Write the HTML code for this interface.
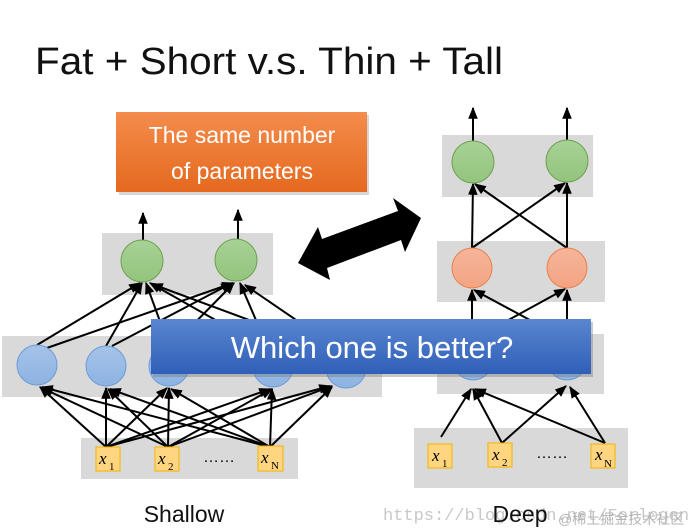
<!DOCTYPE html>
<html><head><meta charset="utf-8"><style>
html,body{margin:0;padding:0;background:#fff;}
svg{display:block;}
</style></head><body>
<svg width="692" height="532" viewBox="0 0 692 532" xmlns="http://www.w3.org/2000/svg">
<defs>
<marker id="ah" viewBox="0 0 10 10" refX="9" refY="5" markerWidth="6" markerHeight="6" orient="auto"><path d="M0,1 L10,5 L0,9 Z" fill="#000"/></marker>
<linearGradient id="gG" x1="0" y1="0" x2="0" y2="1"><stop offset="0" stop-color="#a7d296"/><stop offset="1" stop-color="#93c47d"/></linearGradient>
<linearGradient id="gB" x1="0" y1="0" x2="0" y2="1"><stop offset="0" stop-color="#a5c3e8"/><stop offset="1" stop-color="#8db3e2"/></linearGradient>
<linearGradient id="gO" x1="0" y1="0" x2="0" y2="1"><stop offset="0" stop-color="#f6b59a"/><stop offset="1" stop-color="#f3a482"/></linearGradient>
<linearGradient id="gOr" x1="0" y1="0" x2="0" y2="1"><stop offset="0" stop-color="#f48c4c"/><stop offset="1" stop-color="#e5691f"/></linearGradient>
<linearGradient id="gBl" x1="0" y1="0" x2="0" y2="1"><stop offset="0" stop-color="#5a86d0"/><stop offset="1" stop-color="#2f5fb8"/></linearGradient>
</defs>
<text x="35" y="74" font-family="Liberation Sans, sans-serif" font-size="38" fill="#111" textLength="468" lengthAdjust="spacingAndGlyphs">Fat + Short v.s. Thin + Tall</text>

<!-- Shallow -->
<rect x="102" y="233" width="171" height="62" fill="#d9d9d9"/>
<rect x="2" y="336" width="380" height="61" fill="#d9d9d9"/>
<rect x="81" y="438" width="217" height="41" fill="#d9d9d9"/>
<g stroke="#000" stroke-width="2" marker-end="url(#ah)">
<line x1="143" y1="245" x2="143" y2="213"/>
<line x1="238" y1="243" x2="238" y2="210"/>
<line x1="37" y1="345" x2="140" y2="283"/><line x1="44" y1="349" x2="233" y2="283"/>
<line x1="106" y1="346" x2="142" y2="283"/><line x1="112" y1="346" x2="232" y2="283"/>
<line x1="169" y1="346" x2="146" y2="283"/><line x1="172" y1="346" x2="234" y2="283"/>
<line x1="265" y1="348" x2="150" y2="283"/><line x1="268" y1="348" x2="240" y2="283"/>
<line x1="330" y1="350" x2="152" y2="284"/><line x1="340" y1="350" x2="245" y2="285"/>
<line x1="106" y1="447" x2="40" y2="387"/><line x1="106" y1="447" x2="106" y2="388"/><line x1="106" y1="447" x2="167" y2="388"/><line x1="106" y1="447" x2="270" y2="389"/><line x1="106" y1="447" x2="330" y2="386"/>
<line x1="168" y1="447" x2="42" y2="388"/><line x1="168" y1="447" x2="108" y2="389"/><line x1="168" y1="447" x2="169" y2="388"/><line x1="168" y1="447" x2="272" y2="389"/><line x1="168" y1="447" x2="332" y2="386"/>
<line x1="270" y1="447" x2="42" y2="387"/><line x1="270" y1="447" x2="110" y2="389"/><line x1="270" y1="447" x2="171" y2="389"/><line x1="270" y1="447" x2="272" y2="389"/><line x1="270" y1="447" x2="332" y2="387"/>
</g>
<g stroke="#6ea04f" stroke-width="1" fill="url(#gG)"><circle cx="142" cy="261" r="21"/><circle cx="236" cy="260" r="21"/></g>
<g stroke="#6d9bd6" stroke-width="1" fill="url(#gB)"><circle cx="37" cy="365" r="20"/><circle cx="106" cy="366" r="20"/><circle cx="169" cy="366" r="20"/><circle cx="273" cy="367" r="20"/><circle cx="346" cy="368" r="20"/></g>
<g fill="#ffd580" stroke="#f4b400" stroke-width="1"><rect x="96" y="447" width="24" height="24"/><rect x="155" y="447" width="24" height="24"/><rect x="258" y="446" width="25" height="25"/></g>
<g font-family="Liberation Serif, serif" font-style="italic" font-size="17" fill="#000">
<text x="99" y="464">x</text><text x="158" y="464">x</text><text x="261" y="463">x</text></g>
<g font-family="Liberation Serif, serif" font-size="11" fill="#000"><text x="109" y="470">1</text><text x="168" y="470">2</text><text x="271" y="469">N</text></g>
<text x="203" y="462" font-family="Liberation Sans, sans-serif" font-size="16" fill="#000">……</text>
<text x="184" y="522" text-anchor="middle" font-family="Liberation Sans, sans-serif" font-size="23" fill="#111">Shallow</text>

<!-- Deep -->
<rect x="442" y="135" width="151" height="62" fill="#d9d9d9"/>
<rect x="437" y="241" width="168" height="61" fill="#d9d9d9"/>
<rect x="437" y="334" width="167" height="60" fill="#d9d9d9"/>
<rect x="414" y="428" width="214" height="60" fill="#d9d9d9"/>
<g stroke="#000" stroke-width="2" marker-end="url(#ah)">
<line x1="473" y1="143" x2="473" y2="108"/><line x1="567" y1="143" x2="567" y2="108"/>
<line x1="472" y1="248" x2="473" y2="184"/><line x1="472" y1="248" x2="565" y2="183"/>
<line x1="567" y1="248" x2="475" y2="184"/><line x1="567" y1="248" x2="567" y2="183"/>
<line x1="472" y1="340" x2="472" y2="290"/><line x1="472" y1="340" x2="565" y2="289"/>
<line x1="567" y1="340" x2="474" y2="290"/><line x1="567" y1="340" x2="567" y2="290"/>
<line x1="441" y1="437" x2="471" y2="389"/><line x1="502" y1="443" x2="473" y2="389"/><line x1="502" y1="443" x2="566" y2="386"/>
<line x1="605" y1="443" x2="475" y2="389"/><line x1="605" y1="443" x2="570" y2="387"/>
</g>
<g stroke="#6ea04f" stroke-width="1" fill="url(#gG)"><circle cx="473" cy="162" r="21"/><circle cx="567" cy="161" r="21"/></g>
<g stroke="#e8824f" stroke-width="1" fill="url(#gO)"><circle cx="472" cy="268" r="20"/><circle cx="567" cy="268" r="20"/></g>
<g stroke="#6d9bd6" stroke-width="1" fill="url(#gB)"><circle cx="473" cy="360" r="20"/><circle cx="567" cy="360" r="20"/></g>
<g fill="#ffd580" stroke="#f4b400" stroke-width="1"><rect x="428" y="444" width="24" height="24"/><rect x="488" y="443" width="24" height="24"/><rect x="591" y="444" width="24" height="24"/></g>
<g font-family="Liberation Serif, serif" font-style="italic" font-size="17" fill="#000">
<text x="432" y="461">x</text><text x="492" y="460">x</text><text x="595" y="460">x</text></g>
<g font-family="Liberation Serif, serif" font-size="11" fill="#000"><text x="442" y="467">1</text><text x="502" y="466">2</text><text x="604" y="467">N</text></g>
<text x="536" y="458" font-family="Liberation Sans, sans-serif" font-size="16" fill="#000">……</text>
<text x="383" y="520" font-family="Liberation Mono, monospace" font-size="17" fill="#c8c8c8">https://blog.csdn.net/Forlogen</text>
<text x="520" y="522" text-anchor="middle" font-family="Liberation Sans, sans-serif" font-size="23" fill="#111">Deep</text>
<text x="558" y="524" font-family="Liberation Sans, 'Noto Sans CJK SC', sans-serif" font-size="14" fill="#b5b5b5">@稀土掘金技术社区</text>

<!-- double arrow -->
<polygon points="298,263 318,227 322,239 398,211 393,198 421,218 405,252 401,240 327,268 330,280" fill="#000"/>

<!-- orange box -->
<rect x="119" y="115" width="250" height="80" fill="#999" opacity="0.4"/>
<rect x="116" y="112" width="251" height="80" fill="url(#gOr)"/>
<text x="242" y="143" text-anchor="middle" font-family="Liberation Sans, sans-serif" font-size="23" fill="#fff">The same number</text>
<text x="242" y="179" text-anchor="middle" font-family="Liberation Sans, sans-serif" font-size="23" fill="#fff">of parameters</text>

<!-- blue banner -->
<rect x="153" y="322" width="440" height="55" fill="#777" opacity="0.4"/>
<rect x="151" y="319" width="440" height="55" fill="url(#gBl)"/>
<text x="372" y="358" text-anchor="middle" font-family="Liberation Sans, sans-serif" font-size="31" fill="#fff">Which one is better?</text>
</svg>
</body></html>
